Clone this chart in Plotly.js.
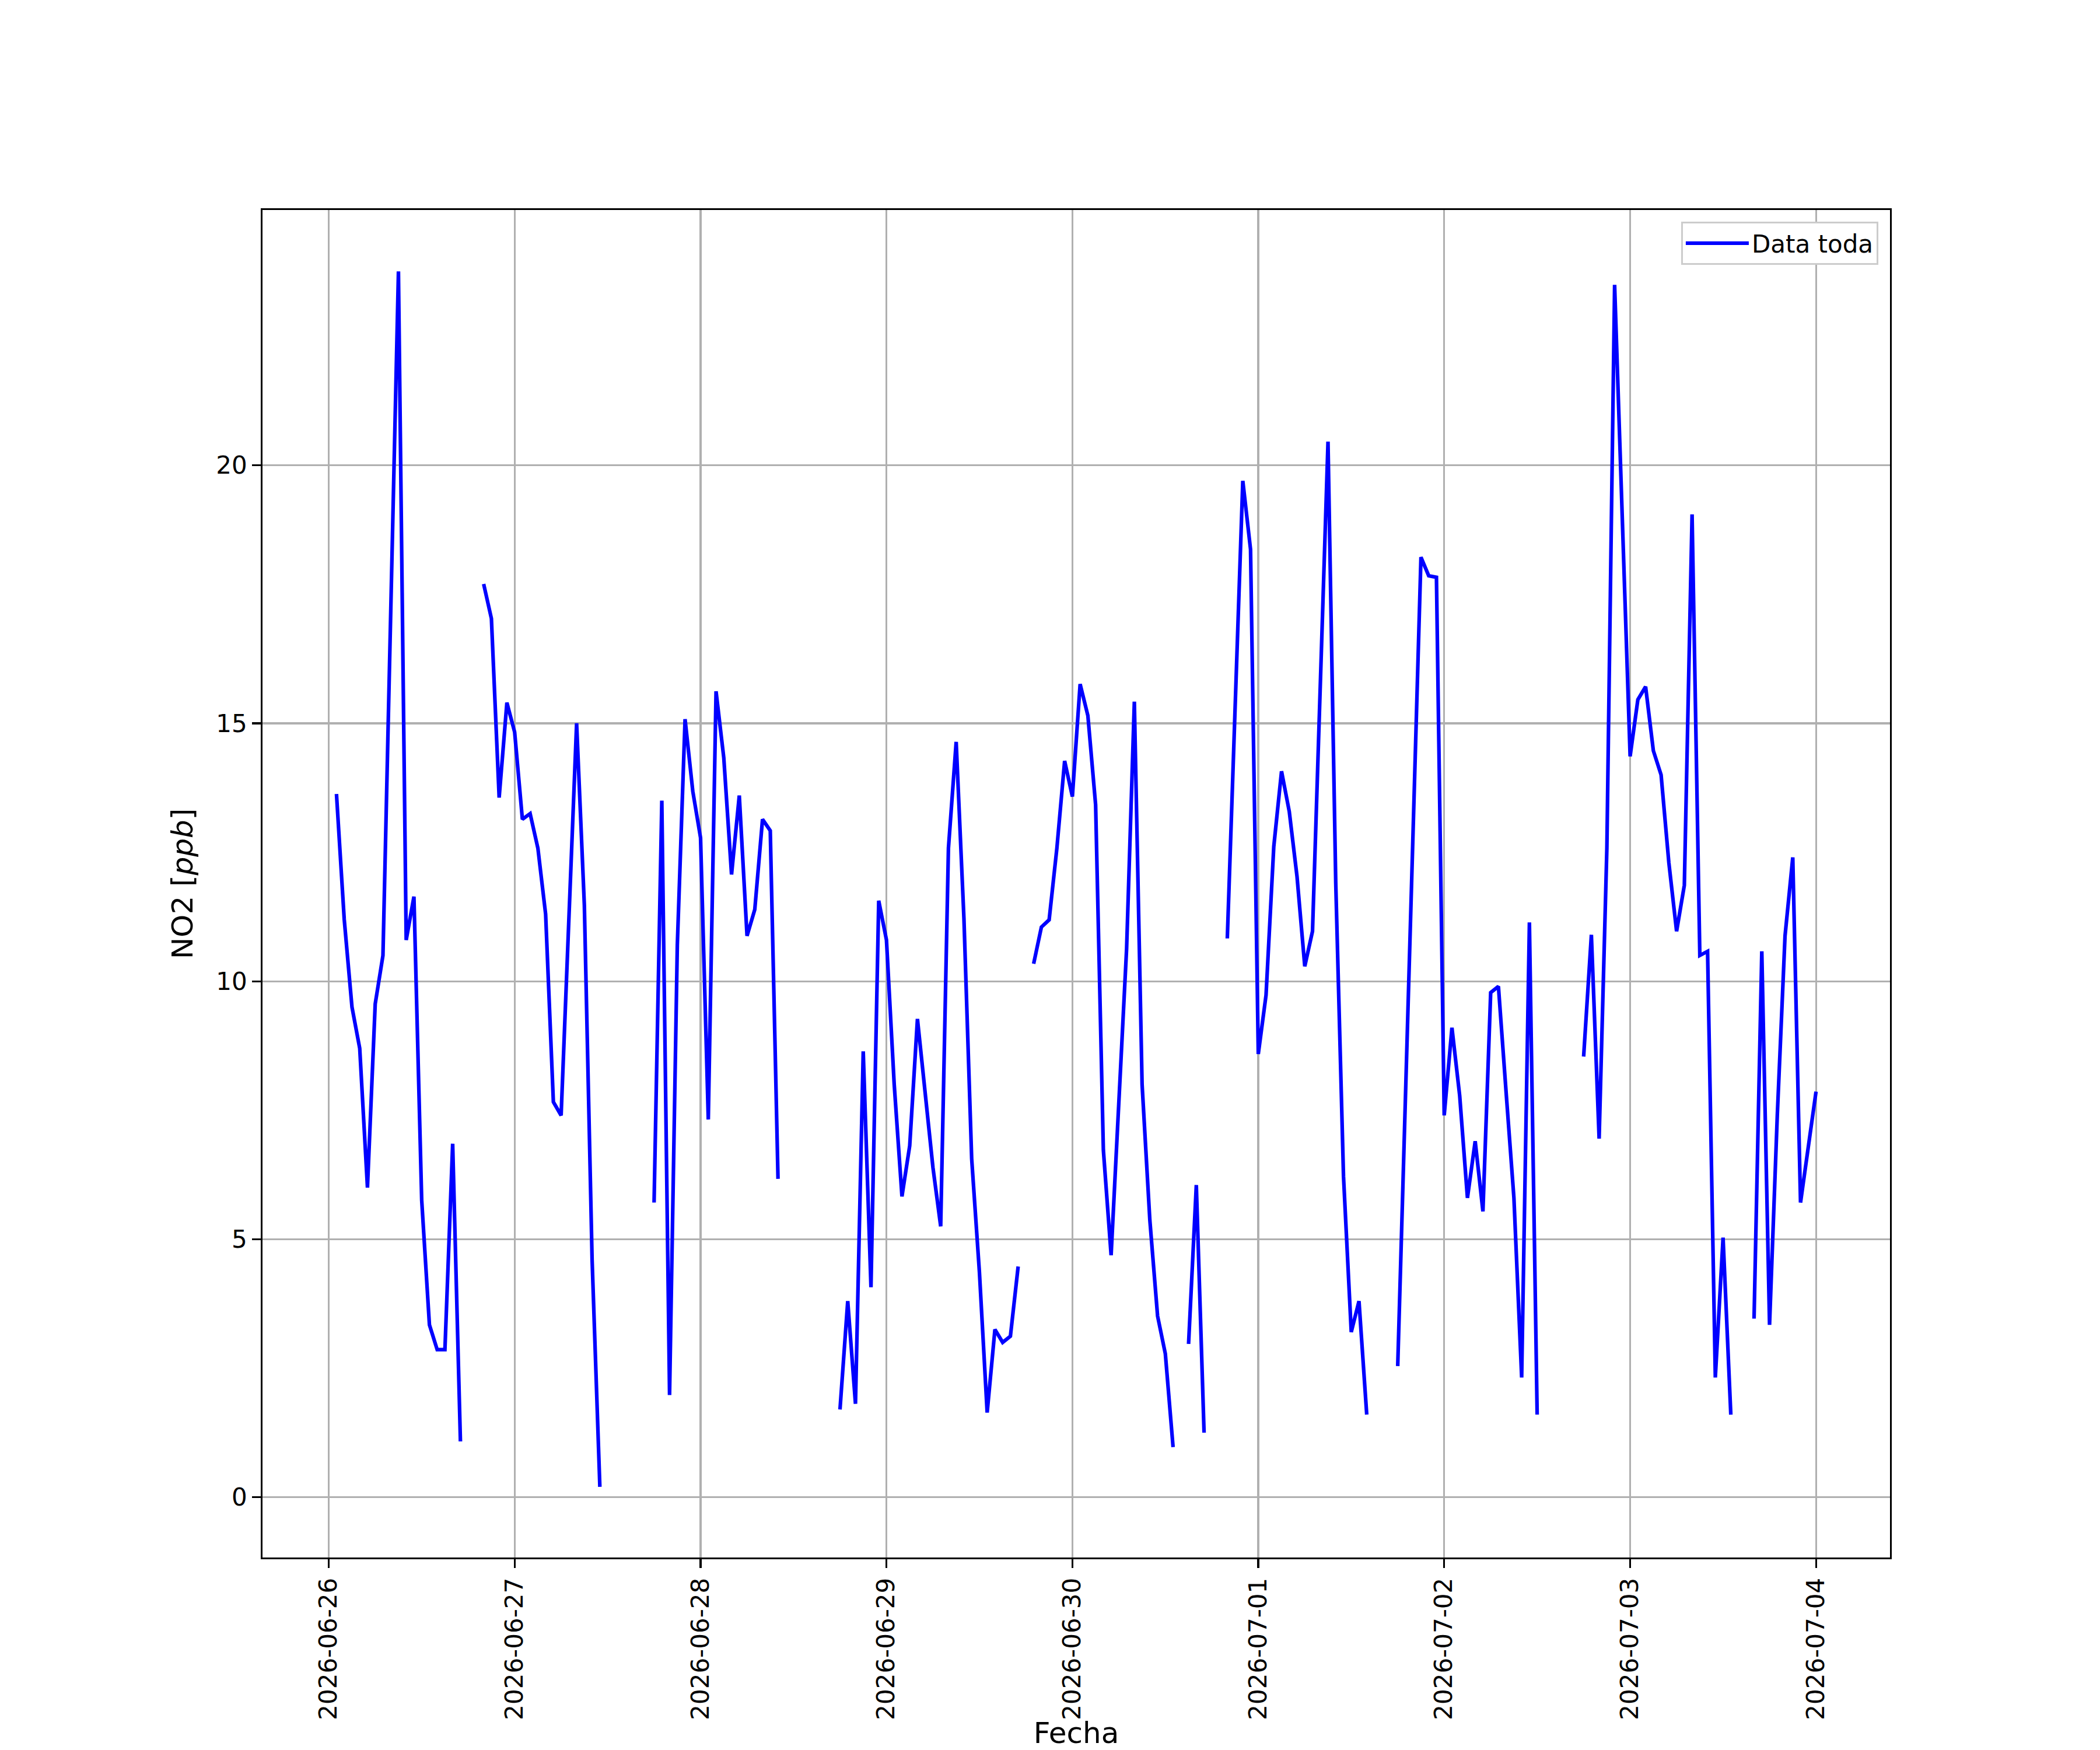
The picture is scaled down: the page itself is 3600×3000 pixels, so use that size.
<!DOCTYPE html>
<html>
<head>
<meta charset="utf-8">
<script src="https://cdn.plot.ly/plotly-3.0.1.min.js"></script>
<style>
  html, body { margin: 0; padding: 0; background: #ffffff; }
  #chart { width: 3600px; height: 3000px; }
</style>
</head>
<body>
<div id="chart"></div>
<script>
// Hourly NO2 readings (ppb), one array per day, hours 00..23; null = missing
const days = ["2026-06-26","2026-06-27","2026-06-28","2026-06-29","2026-06-30","2026-07-01","2026-07-02","2026-07-03"];
const no2_0626 = [null,13.63,11.2,9.5,8.7,6.0,9.56,10.5,17.5,23.76,10.8,11.64,5.76,3.34,2.86,2.86,6.85,1.08,null,null,17.7,17.03,13.56,15.4];
const no2_0627 = [14.83,13.14,13.25,12.58,11.3,7.66,7.4,11.1,15.0,11.47,4.6,0.2,null,null,null,null,null,null,5.71,13.5,1.98,10.7,15.08,13.68];
const no2_0628 = [12.78,7.32,15.62,14.33,12.07,13.6,10.88,11.39,13.14,12.92,6.17,null,null,null,null,null,null,null,1.7,3.8,1.81,8.64,4.07,11.56];
const no2_0629 = [10.8,8.0,5.83,6.81,9.27,7.9,6.39,5.25,12.58,14.64,11.22,6.56,4.36,1.64,3.25,3.0,3.12,4.47,null,10.34,11.05,11.19,12.58,14.27];
const no2_0630 = [13.58,15.76,15.15,13.42,6.73,4.69,7.7,10.63,15.42,8.0,5.37,3.51,2.78,0.97,null,2.97,6.05,1.25,null,null,10.83,15.3,19.7,18.37];
const no2_0701 = [8.59,9.73,12.61,14.07,13.29,12.03,10.29,10.97,15.7,20.46,11.9,6.22,3.2,3.8,1.6,null,null,null,2.54,7.9,13.42,18.22,17.86,17.83];
const no2_0702 = [7.4,9.1,7.78,5.8,6.9,5.54,9.78,9.9,7.83,5.8,2.32,11.14,1.6,null,null,null,null,null,8.54,10.9,6.95,12.58,23.5,18.9];
const no2_0703 = [14.36,15.46,15.71,14.47,14.0,12.3,10.97,11.86,19.05,10.5,10.58,2.32,5.03,1.6,null,null,3.46,10.58,3.34,7.4,10.88,12.4,5.71,6.85];
const lastTime = "2026-07-04 00:00";
const lastValue = 7.86;

const dayValues = [no2_0626,no2_0627,no2_0628,no2_0629,no2_0630,no2_0701,no2_0702,no2_0703];
const tickVals = days.concat(["2026-07-04"]);
const yTicks = [0,5,10,15,20];

const xs = [], ys = [];
days.forEach(function(d, i){
  dayValues[i].forEach(function(v, h){
    xs.push(d + " " + String(h).padStart(2,"0") + ":00");
    ys.push(v);
  });
});
xs.push(lastTime); ys.push(lastValue);

const FONT = "DejaVu Sans, Liberation Sans, sans-serif";

const trace = {
  x: xs, y: ys, type: "scatter", mode: "lines",
  name: "Data toda",
  connectgaps: false,
  line: { color: "#0000ff", width: 6.25 }
};

const axisCommon = {
  showline: true, mirror: true, linecolor: "#000000", linewidth: 3.3,
  ticks: "outside", ticklen: 14.6, tickwidth: 3.3, tickcolor: "#000000",
  showgrid: true, gridcolor: "#b0b0b0", gridwidth: 3.3,
  zeroline: false, automargin: false,
  tickfont: { family: FONT, size: 42, color: "#000000" }
};

const layout = {
  width: 3600, height: 3000,
  paper_bgcolor: "#ffffff", plot_bgcolor: "#ffffff",
  margin: { l: 450, r: 360, t: 360, b: 330, pad: 0 },
  font: { family: FONT, color: "#000000" },
  showlegend: true,
  legend: {
    x: 0.9928, xanchor: "right", y: 0.9913, yanchor: "top",
    bgcolor: "#ffffff", bordercolor: "#cccccc", borderwidth: 3,
    font: { family: FONT, size: 42, color: "#000000" },
    itemwidth: 108
  },
  xaxis: Object.assign({}, axisCommon, {
    type: "date",
    range: ["2026-06-25 15:27", "2026-07-04 09:33"],
    tickmode: "array", tickvals: tickVals, ticktext: tickVals,
    tickangle: -90,
    title: { text: "Fecha", font: { family: FONT, size: 50, color: "#000000" }, standoff: 19 }
  }),
  yaxis: Object.assign({}, axisCommon, {
    range: [-1.17, 24.95],
    tickmode: "array", tickvals: yTicks, ticktext: yTicks.map(String),
    title: { text: "NO2 [<i>ppb</i>]", font: { family: FONT, size: 50, color: "#000000" }, standoff: 24 }
  })
};

Plotly.newPlot("chart", [trace], layout, { staticPlot: true, displayModeBar: false });
</script>
</body>
</html>
